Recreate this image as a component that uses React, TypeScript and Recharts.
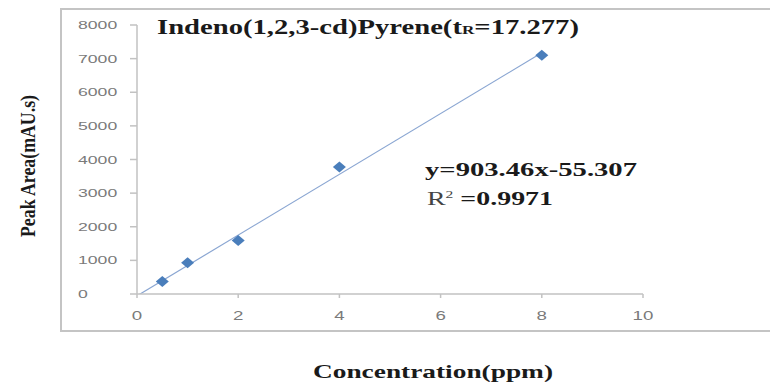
import { ComposedChart, Scatter, Line, XAxis, YAxis } from "recharts";

// calibration standards
const concentrations = [0.5, 1, 2, 4, 8];
const peakAreas = [370, 930, 1590, 3780, 7100];

const xTicks = [0, 2, 4, 6, 8, 10];
const yTicks = [0, 1000, 2000, 3000, 4000, 5000, 6000, 7000, 8000];

// least-squares fit shown on the chart
const SLOPE = 903.46;
const INTERCEPT = -55.307;
const trendEnds = [0, 8];

const points = concentrations.map((x, i) => ({ x, y: peakAreas[i] }));
const trend = trendEnds.map((x) => ({ x, y: SLOPE * x + INTERCEPT }));

const AXIS_GRAY = "#c2c2c2";
const TICK_TEXT = "#7a7a7a";
const MARKER = "#4a7ebb";
const TREND = "#8aa6d2";
const SERIF = "'Liberation Serif', 'Times New Roman', serif";

// value labels on the left axis start at a fixed column
const Y_LABEL_LEFT = 78;

function YTick(props: any) {
  const { y, payload } = props;
  const s = String(payload.value);
  return (
    <text
      x={Y_LABEL_LEFT}
      y={y}
      dy={4}
      textAnchor="start"
      fontSize={11}
      fontFamily="'Liberation Sans', Arial, sans-serif"
      fill={TICK_TEXT}
      textLength={s.length * 9.8}
      lengthAdjust="spacingAndGlyphs"
    >
      {s}
    </text>
  );
}

function XTick(props: any) {
  const { x, y, payload } = props;
  const s = String(payload.value);
  return (
    <text
      x={x}
      y={y}
      dy={10}
      textAnchor="middle"
      fontSize={13}
      fontFamily="'Liberation Sans', Arial, sans-serif"
      fill={TICK_TEXT}
      textLength={s.length * 10.4}
      lengthAdjust="spacingAndGlyphs"
    >
      {s}
    </text>
  );
}

const Diamond = (props: any) => {
  const { cx, cy } = props;
  return (
    <polygon
      points={`${cx},${cy - 5.5} ${cx + 6.5},${cy} ${cx},${cy + 5.5} ${cx - 6.5},${cy}`}
      fill={MARKER}
    />
  );
};

export default function App() {
  return (
    <div
      style={{
        position: "absolute",
        left: 0,
        top: 0,
        width: 770,
        height: 389,
        overflow: "hidden",
        background: "#fff",
      }}
    >
      <div
        style={{
          position: "absolute",
          left: 60,
          top: 8,
          width: 740,
          height: 324,
          border: "2px solid #c4c4c4",
          boxSizing: "border-box",
        }}
      />
      <ComposedChart
        width={770}
        height={389}
        margin={{ top: 25, right: 127, bottom: 65, left: 77 }}
        style={{ position: "absolute", left: 0, top: 0 }}
      >
        <XAxis
          type="number"
          dataKey="x"
          domain={[0, 10]}
          ticks={xTicks}
          height={30}
          stroke={AXIS_GRAY}
          strokeWidth={1.5}
          tickSize={4}
          tickMargin={12}
          tick={<XTick />}
        />
        <YAxis
          type="number"
          dataKey="y"
          domain={[0, 8000]}
          ticks={yTicks}
          allowDataOverflow
          width={60}
          stroke={AXIS_GRAY}
          strokeWidth={1.5}
          tickSize={7}
          tickMargin={13}
          tick={<YTick />}
        />
        <Line
          data={trend}
          dataKey="y"
          stroke={TREND}
          strokeWidth={1.2}
          dot={false}
          activeDot={false}
          isAnimationActive={false}
        />
        <Scatter
          data={points}
          dataKey="y"
          shape={<Diamond />}
          isAnimationActive={false}
        />
      </ComposedChart>
      <svg
        width={770}
        height={389}
        style={{ position: "absolute", left: 0, top: 0, pointerEvents: "none" }}
      >
        <text
          x={157}
          y={34}
          fontFamily={SERIF}
          fontWeight="bold"
          fontSize={20}
          fill="#1a1a1a"
          textLength={422}
          lengthAdjust="spacingAndGlyphs"
        >
          Indeno(1,2,3-cd)Pyrene(t
          <tspan fontSize={12}>R</tspan>
          =17.277)
        </text>
        <text
          x={425}
          y={176}
          fontFamily={SERIF}
          fontWeight="bold"
          fontSize={19}
          fill="#1a1a1a"
          textLength={212}
          lengthAdjust="spacingAndGlyphs"
        >
          y=903.46x-55.307
        </text>
        <text
          x={427}
          y={205}
          fontFamily={SERIF}
          fontSize={18}
          fill="#1a1a1a"
          textLength={126}
          lengthAdjust="spacingAndGlyphs"
        >
          <tspan fill="#444">R</tspan>
          <tspan fontSize={10} dy={-7} fill="#444">2</tspan>
          <tspan dy={7} fontWeight="bold"> =0.9971</tspan>
        </text>
        <text
          x={0}
          y={0}
          transform="translate(35, 166) rotate(-90)"
          textAnchor="middle"
          fontFamily={SERIF}
          fontWeight="bold"
          fontSize={21}
          fill="#1a1a1a"
          textLength={142}
          lengthAdjust="spacingAndGlyphs"
        >
          Peak Area(mAU.s)
        </text>
        <text
          x={313}
          y={378}
          fontFamily={SERIF}
          fontWeight="bold"
          fontSize={19}
          fill="#1a1a1a"
          textLength={240}
          lengthAdjust="spacingAndGlyphs"
        >
          Concentration(ppm)
        </text>
      </svg>
    </div>
  );
}
